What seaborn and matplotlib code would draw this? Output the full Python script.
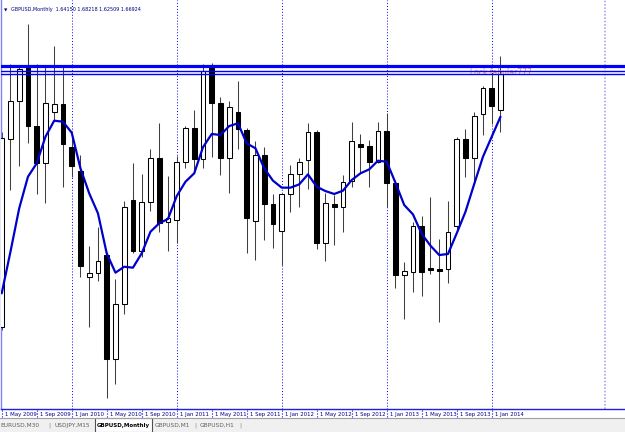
import numpy as np
import pandas as pd
import matplotlib
matplotlib.use("Agg")
import matplotlib.pyplot as plt
import seaborn as sns
from matplotlib.patches import Rectangle
from matplotlib.transforms import ScaledTranslation

# monthly GBPUSD candles, May 2009 .. Feb 2014
months = pd.date_range("2009-05-01", periods=58, freq="MS")

opens = [1.4768, 1.6192, 1.6481, 1.6744, 1.6293, 1.6010, 1.6402, 1.6461, 1.6132, 1.5954,
         1.5148, 1.5174, 1.5313, 1.4523, 1.4938, 1.5731, 1.5343, 1.5714, 1.6048, 1.5562,
         1.5580, 1.6018, 1.6276, 1.6040, 1.6732, 1.6471, 1.6053, 1.6402, 1.6263, 1.5574,
         1.6073, 1.5701, 1.5495, 1.5774, 1.5926, 1.6035, 1.6250, 1.5402, 1.5701, 1.5680,
         1.5878, 1.6154, 1.6141, 1.6022, 1.6255, 1.5862, 1.5161, 1.5186, 1.5536, 1.5212,
         1.5206, 1.5204, 1.5533, 1.6192, 1.6048, 1.6382, 1.6580, 1.64150]
highs = [1.6250, 1.6765, 1.6749, 1.7069, 1.6765, 1.6749, 1.6901, 1.6749, 1.6250, 1.6073,
         1.5381, 1.5528, 1.5338, 1.5128, 1.5726, 1.6010, 1.5926, 1.6116, 1.6314, 1.5913,
         1.6065, 1.6293, 1.6415, 1.6765, 1.6770, 1.6512, 1.6486, 1.6638, 1.6276, 1.6179,
         1.6136, 1.5777, 1.5780, 1.5997, 1.6048, 1.6319, 1.6263, 1.5782, 1.5769, 1.5921,
         1.6322, 1.6233, 1.6187, 1.6322, 1.6394, 1.5883, 1.5262, 1.5566, 1.5612, 1.5756,
         1.5435, 1.5723, 1.6208, 1.6271, 1.6402, 1.6597, 1.6694, 1.68218]
lows = [1.4740, 1.5807, 1.5989, 1.6164, 1.5774, 1.5711, 1.6339, 1.5832, 1.5908, 1.5148,
        1.4768, 1.5118, 1.4224, 1.4333, 1.4865, 1.5326, 1.5296, 1.5650, 1.5490, 1.5343,
        1.5406, 1.5972, 1.5959, 1.5972, 1.6060, 1.5921, 1.5787, 1.6116, 1.5326, 1.5275,
        1.5427, 1.5364, 1.5237, 1.5642, 1.5680, 1.5812, 1.5356, 1.5267, 1.5389, 1.5490,
        1.5832, 1.5934, 1.5832, 1.6010, 1.5680, 1.5064, 1.4824, 1.5030, 1.5004, 1.5166,
        1.4806, 1.5098, 1.5503, 1.5904, 1.5858, 1.6225, 1.6306, 1.62509]
closes = [1.6204, 1.6481, 1.6727, 1.6293, 1.6010, 1.6471, 1.6461, 1.6154, 1.5989, 1.5229,
          1.5174, 1.5265, 1.4523, 1.4938, 1.5676, 1.5343, 1.5714, 1.6048, 1.5554, 1.5592,
          1.6018, 1.6276, 1.6040, 1.6714, 1.6471, 1.6053, 1.6436, 1.6268, 1.5592, 1.6073,
          1.5701, 1.5546, 1.5774, 1.5926, 1.6018, 1.6246, 1.5406, 1.5706, 1.5680, 1.5870,
          1.6179, 1.6136, 1.6022, 1.6255, 1.5862, 1.5161, 1.5194, 1.5536, 1.5186, 1.5201,
          1.5194, 1.5490, 1.6192, 1.6048, 1.6372, 1.6580, 1.6445, 1.66924]

# moving average line as drawn on the chart
ma_values = [1.5022, 1.5338, 1.5668, 1.5908, 1.6010, 1.6212, 1.6334, 1.6326, 1.6243, 1.5972,
             1.5782, 1.5630, 1.5326, 1.5179, 1.5224, 1.5217, 1.5326, 1.5490, 1.5554, 1.5587,
             1.5761, 1.5870, 1.5934, 1.6132, 1.6233, 1.6225, 1.6293, 1.6314, 1.6162, 1.6124,
             1.5972, 1.5878, 1.5825, 1.5825, 1.5850, 1.5926, 1.5832, 1.5799, 1.5777, 1.5802,
             1.5883, 1.5934, 1.5964, 1.6030, 1.6022, 1.5862, 1.5693, 1.5622, 1.5473, 1.5384,
             1.5313, 1.5321, 1.5478, 1.5642, 1.5853, 1.6060, 1.6212, 1.6364]

level_thick = 1.6746
level_thin = [1.6711, 1.6689]
level_label = "Lock fabular777"
shift_marker = 69

tabs = ["EURUSD,M30", "USDJPY,M15", "GBPUSD,Monthly", "GBPUSD,M1", "GBPUSD,H1"]
tab_centers = [20, 72, 123, 172, 217]
tab_separators = [49, 195, 240]

df = pd.DataFrame({"month": months, "open": opens, "high": highs,
                   "low": lows, "close": closes, "ma": ma_values})
df["pos"] = np.arange(len(df))
df["up"] = df["close"] >= df["open"]

sns.set_style("white")
plt.rcParams["font.family"] = ["DejaVu Sans"]

fig = plt.figure(figsize=(6.25, 4.32), dpi=100)
ax = fig.add_axes([1 / 625, 23 / 432, 624 / 625, 409 / 432])

# year separators
for p in df.loc[df["month"].dt.month == 1, "pos"]:
    ax.axvline(p, color="#0000ff", ls=(0, (1, 2)), lw=0.7, zorder=1)
ax.axvline(shift_marker, color="#a8a8f0", ls=(0, (1, 1)), lw=1.2, zorder=1)

# candles
ax.vlines(df["pos"], df["low"], df["high"], colors="#404040", lw=0.75, zorder=2)
ax.bar(df["pos"], (df["close"] - df["open"]).abs(),
       bottom=df[["open", "close"]].min(axis=1), width=0.56,
       color=np.where(df["up"], "white", "black"), edgecolor="black",
       linewidth=0.75, zorder=3)

sns.lineplot(data=df, x="pos", y="ma", ax=ax, color="#0000cd", lw=1.6, zorder=4)

ax.text(53.5, 1.6702, level_label, color="#f08a5a", fontsize=5.5, va="center", zorder=4.5)
ax.axhline(level_thick, color="#0000ff", lw=2.3, zorder=5)
for lv in level_thin:
    ax.axhline(lv, color="#0000ff", lw=1.0, zorder=5)

ax.set_xlim(-0.08, 71.23)
ax.set_ylim(1.4143, 1.7251)
ax.set_xlabel("")
ax.set_ylabel("")
ax.set_yticks([])

tick_pos = df["pos"][::4]
ax.set_xticks(tick_pos)
ax.set_xticklabels([f"1 {m:%b %Y}" for m in df["month"][::4]], fontsize=3.9,
                   color="#000080", ha="left")
ax.tick_params(axis="x", length=0, pad=2)
for lab in ax.get_xticklabels():
    lab.set_transform(lab.get_transform() + ScaledTranslation(3 / 100, 0, fig.dpi_scale_trans))
ax.vlines(tick_pos, -0.02, 0, transform=ax.get_xaxis_transform(), clip_on=False,
          colors="#0000ff", ls=":", lw=0.8)

for s in ["top", "right"]:
    ax.spines[s].set_visible(False)
ax.spines["left"].set_color("#8080ff")
ax.spines["left"].set_linewidth(1.0)
ax.spines["bottom"].set_color("#2020e0")
ax.spines["bottom"].set_linewidth(1.0)

# chart caption
ax.text(3 / 624, 1 - 10 / 409, "\u25bc", transform=ax.transAxes, fontsize=3.2,
        color="#000080", va="center")
ax.text(10 / 624, 1 - 10 / 409,
        f"GBPUSD,Monthly  {opens[-1]:.5f} {highs[-1]:.5f} {lows[-1]:.5f} {closes[-1]:.5f}",
        transform=ax.transAxes, fontsize=3.5, color="#000080", va="center")

# tab strip at the bottom
fig.patches.append(Rectangle((0, 0), 1, 14 / 432, transform=fig.transFigure,
                             facecolor="#f0f0f0", edgecolor="none", zorder=0))
fig.add_artist(plt.Line2D([0, 1], [14 / 432, 14 / 432], transform=fig.transFigure,
                          color="#a0a0a0", lw=0.8))
fig.patches.append(Rectangle((95 / 625, 0), 57 / 625, 14.5 / 432, transform=fig.transFigure,
                             facecolor="white", edgecolor="#505050", lw=0.8, zorder=1))
for name, cx in zip(tabs, tab_centers):
    sel = name == "GBPUSD,Monthly"
    fig.text(cx / 625, 7 / 432, name, ha="center", va="center",
             fontsize=4.0 if sel else 4.2,
             color="black" if sel else "#606060", fontweight="bold" if sel else "normal")
for sx in tab_separators:
    fig.text(sx / 625, 7 / 432, "|", ha="center", va="center", fontsize=4.5, color="#909090")

plt.savefig("out.png", dpi=100, facecolor="white")
plt.close()
